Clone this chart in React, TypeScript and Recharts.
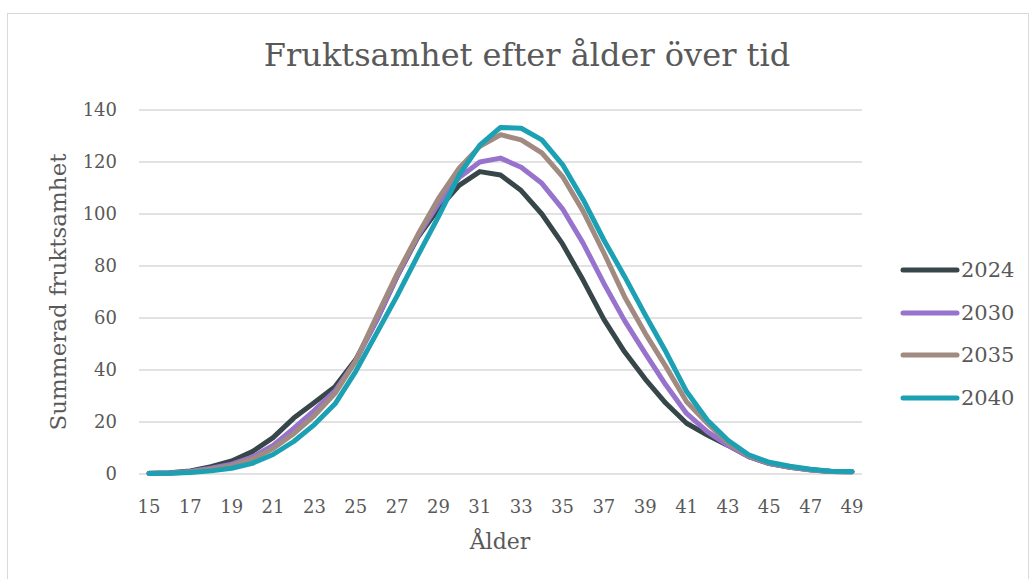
import React from 'react'
import {
  LineChart,
  Line,
  CartesianGrid,
  XAxis,
  YAxis
} from 'recharts';

const ages = [15, 16, 17, 18, 19, 20, 21, 22, 23, 24, 25, 26, 27, 28, 29, 30, 31, 32,
  33, 34, 35, 36, 37, 38, 39, 40, 41, 42, 43, 44, 45, 46, 47, 48, 49];

const y2024 = [0.3, 0.5, 1.2, 2.8, 5, 8.6, 14, 21.5, 27.5, 33.6, 44, 59, 76, 91, 102, 111, 116.3, 115,
  109, 100, 88.5, 74.5, 59.5, 47, 36.5, 27.2, 19.5, 15, 11, 6.7, 4, 2.6, 1.6, 1, 0.9];
const y2030 = [0.2, 0.4, 1, 2.2, 3.8, 6.5, 11, 17.5, 24.5, 32, 43.5, 59, 76, 91.5, 104, 114, 120, 121.5,
  118, 111.8, 102, 88.7, 73.3, 59, 46.4, 34.2, 23.3, 16.3, 11, 6.7, 4, 2.6, 1.5, 1, 0.9];
const y2035 = [0.2, 0.3, 0.8, 1.8, 3.2, 5.7, 9.8, 15.5, 22.5, 31, 43.5, 60.5, 77, 92, 106, 117.6, 126, 130.5,
  128.5, 123.5, 114.4, 101, 85, 68.2, 54.1, 41.3, 27.8, 19.5, 12, 7, 4.2, 2.7, 1.6, 1, 0.9];
const y2040 = [0.2, 0.3, 0.6, 1.2, 2.2, 4.1, 7.5, 12.5, 19, 27, 39.5, 54, 68.5, 84, 99, 115, 126.5, 133.3,
  133, 128.5, 119, 105.5, 90, 76, 61.2, 47, 31.7, 20.8, 13, 7.4, 4.5, 3, 1.8, 1.1, 1];

const yTicks = [0, 20, 40, 60, 80, 100, 120, 140];

const series = [
  { key: '2024', color: '#374649' },
  { key: '2030', color: '#9773cd' },
  { key: '2035', color: '#a18a80' },
  { key: '2040', color: '#1ba1b3' },
];

const data = ages.map((a, i) => ({
  age: a,
  '2024': y2024[i],
  '2030': y2030[i],
  '2035': y2035[i],
  '2040': y2040[i],
}));

const font = '"DejaVu Serif", serif';
const textColor = '#595959';

// legend drawn as plain html next to the plot
function LegendBox() {
  return (
    <div style={{ position: 'absolute', left: 900, top: 249, fontFamily: font, fontSize: 21, color: textColor }}>
      {series.map((s) => (
        <div key={s.key} style={{ display: 'flex', alignItems: 'center', height: 42.5 }}>
          <svg width={60} height={8}>
            <line x1={3} y1={4} x2={57} y2={4} stroke={s.color} strokeWidth={5} strokeLinecap="round" />
          </svg>
          <span style={{ marginLeft: 1 }}>{s.key}</span>
        </div>
      ))}
    </div>
  )
}

export default function App() {
  return (
    <div style={{ position: 'absolute', left: 0, top: 0, width: 1034, height: 579, background: '#fff', overflow: 'hidden' }}>
      <div style={{ position: 'absolute', left: 7, top: 13, width: 1022, height: 600, border: '1px solid #d9d9d9', boxSizing: 'border-box' }} />
      <div style={{ position: 'absolute', left: 0, width: 1054, top: 36, textAlign: 'center', fontFamily: font, fontSize: 32, color: textColor }}>
        Fruktsamhet efter ålder över tid
      </div>
      <div style={{ position: 'absolute', left: 58, top: 292, transform: 'translate(-50%, -50%) rotate(-90deg)', whiteSpace: 'nowrap', fontFamily: font, fontSize: 23, color: textColor }}>
        Summerad fruktsamhet
      </div>
      <div style={{ position: 'absolute', left: 500, top: 541, transform: 'translate(-50%, -50%)', fontFamily: font, fontSize: 22, color: textColor }}>
        Ålder
      </div>
      <div style={{ position: 'absolute', left: 0, top: 0 }}>
        <LineChart
          width={1034}
          height={579}
          data={data}
          margin={{ top: 110, right: 172, bottom: 75, left: 79 }}
        >
          <CartesianGrid vertical={false} stroke="#d9d9d9" strokeWidth={1.5} />
          <XAxis
            dataKey="age"
            interval={1}
            height={30}
            axisLine={false}
            tickLine={false}
            tickSize={0}
            tickMargin={26}
            padding={{ left: 10, right: 10 }}
            tick={{ fill: textColor, fontSize: 18, fontFamily: font }}
          />
          <YAxis
            domain={[0, 140]}
            ticks={yTicks}
            interval={0}
            width={60}
            axisLine={false}
            tickLine={false}
            tickSize={0}
            tickMargin={22}
            tick={{ fill: textColor, fontSize: 18, fontFamily: font }}
          />
          {series.map((s) => (
            <Line
              key={s.key}
              type="linear"
              dataKey={s.key}
              stroke={s.color}
              strokeWidth={5}
              strokeLinejoin="round"
              strokeLinecap="round"
              dot={false}
              activeDot={false}
              isAnimationActive={false}
            />
          ))}
        </LineChart>
      </div>
      <LegendBox />
    </div>
  )
}
